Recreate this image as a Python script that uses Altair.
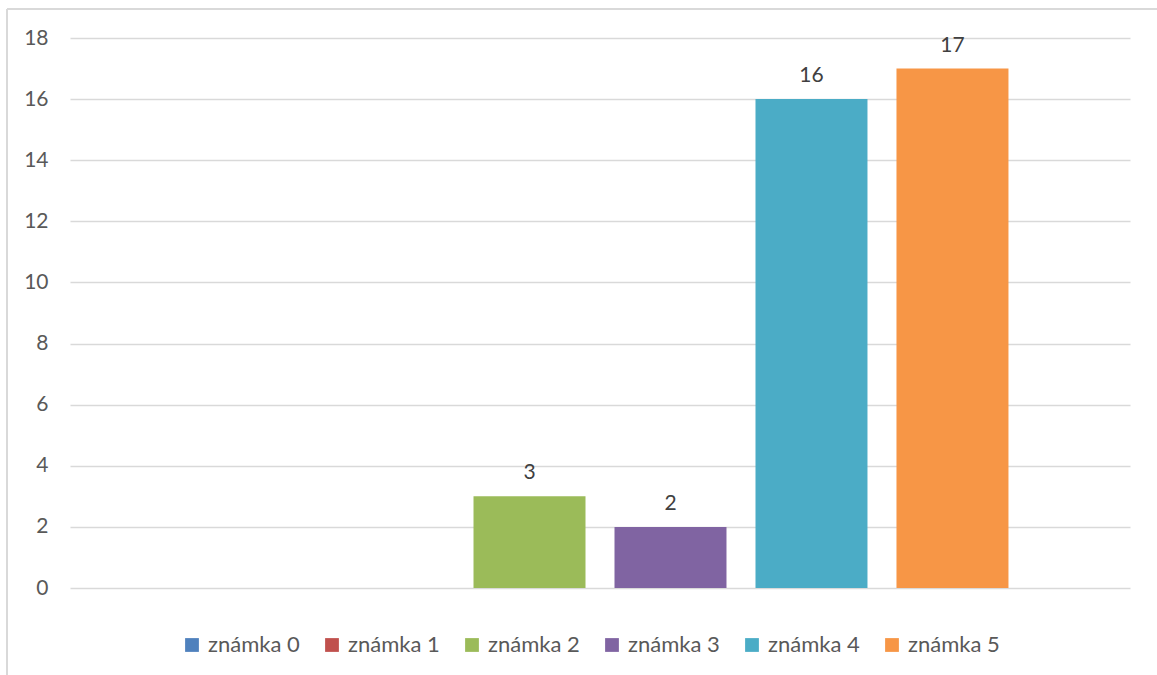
import altair as alt
import pandas as pd

# Grade counts, one bar per grade
grades = ["známka 0", "známka 1", "známka 2", "známka 3", "známka 4", "známka 5"]
counts = [None, None, 3, 2, 16, 17]
colors = ["#4f81bd", "#c0504d", "#9bbb59", "#8064a2", "#4bacc6", "#f79646"]
y_ticks = [0, 2, 4, 6, 8, 10, 12, 14, 16, 18]

df = pd.DataFrame({"grade": grades, "count": counts})

FONT = "Lato"
GRID = "#d9d9d9"
TEXT = "#595959"

x_enc = alt.X(
    "grade:N",
    sort=grades,
    scale=alt.Scale(domain=grades, paddingInner=0.2057, paddingOuter=0.862),
    axis=None,
)
y_enc = alt.Y(
    "count:Q",
    scale=alt.Scale(domain=[0, 18], nice=False),
    axis=alt.Axis(
        values=y_ticks,
        title=None,
        domain=False,
        ticks=False,
        grid=True,
        gridColor=GRID,
        gridWidth=1.3,
        labelFont=FONT,
        labelFontSize=21,
        labelColor=TEXT,
        labelPadding=22,
    ),
)

bars = alt.Chart(df).mark_bar().encode(
    x=x_enc,
    y=y_enc,
    color=alt.Color(
        "grade:N",
        sort=grades,
        scale=alt.Scale(domain=grades, range=colors),
        legend=alt.Legend(
            title=None,
            orient="none",
            direction="horizontal",
            columns=6,
            legendX=111,
            legendY=596,
            padding=0,
            symbolType="square",
            symbolSize=190,
            symbolStrokeWidth=0,
            symbolOffset=0,
            labelFont=FONT,
            labelFontSize=22,
            labelColor=TEXT,
            labelOffset=5,
            columnPadding=21,
        ),
    ),
)

labels = (
    alt.Chart(df)
    .transform_filter("datum.count > 0")
    .mark_text(font=FONT, fontSize=21, color="#404040", baseline="alphabetic", dy=-17)
    .encode(x=x_enc, y=y_enc, text="count:Q")
)

# Outer frame of the chart area
frame_top = alt.Chart(df).mark_rule(color=GRID, strokeWidth=2).encode(
    x=alt.value(-63), x2=alt.value(1100), y=alt.value(-29)
)
frame_left = alt.Chart(df).mark_rule(color=GRID, strokeWidth=2).encode(
    x=alt.value(-63), y=alt.value(-29), y2=alt.value(700)
)

chart = (
    alt.layer(frame_top, frame_left, bars, labels)
    .properties(
        width=1060,
        height=550,
        autosize=alt.AutoSizeParams(type="none"),
        padding={"left": 70, "top": 38, "right": 27, "bottom": 87},
        background="white",
    )
    .configure_view(stroke=None, clip=False)
)

chart.save("out.html", embed_options={"renderer": "svg", "actions": False})
